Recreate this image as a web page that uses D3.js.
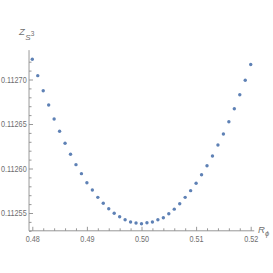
<!DOCTYPE html>
<html><head><meta charset="utf-8">
<script src="https://cdn.jsdelivr.net/npm/d3@7"></script>
<style>
html,body{margin:0;padding:0;background:#fff;}
svg text{font-family:"Liberation Sans",Arial,sans-serif;}
</style></head><body>
<svg id="c" width="273" height="273"></svg>
<script>
const xValues = [0.480,0.481,0.482,0.483,0.484,0.485,0.486,0.487,0.488,0.489,0.490,0.491,0.492,0.493,0.494,0.495,0.496,0.497,0.498,0.499,0.500,0.501,0.502,0.503,0.504,0.505,0.506,0.507,0.508,0.509,0.510,0.511,0.512,0.513,0.514,0.515,0.516,0.517,0.518,0.519,0.520];
const zValues = [0.1127227,0.1127043,0.1126874,0.1126713,0.1126556,0.1126418,0.1126283,0.1126160,0.1126043,0.1125942,0.1125840,0.1125758,0.1125676,0.1125610,0.1125548,0.1125497,0.1125458,0.1125425,0.1125399,0.1125388,0.1125380,0.1125391,0.1125399,0.1125425,0.1125447,0.1125492,0.1125543,0.1125604,0.1125676,0.1125751,0.1125834,0.1125930,0.1126031,0.1126140,0.1126264,0.1126388,0.1126526,0.1126672,0.1126829,0.1126991,0.1127169];
const xTicks = [0.48,0.49,0.50,0.51,0.52];
const xTickLabels = ["0.48","0.49","0.50","0.51","0.52"];
const yTicks = [0.11255,0.11260,0.11265,0.11270];
const yTickLabels = ["0.11255","0.11260","0.11265","0.11270"];
const xMinor = d3.range(0,21).map(i=>0.48+i*0.002).filter(v=>Math.abs(Math.round(v*100)-v*100)>1e-6);
const yMinor = d3.range(0,20).map(i=>0.11253+i*0.00001).filter(v=>v<0.112733 && Math.abs(Math.round(v*20000)-v*20000)>1e-6);

const x = d3.scaleLinear().domain([0.48,0.52]).range([32.3,250.7]);
const y = d3.scaleLinear().domain([0.11255,0.11270]).range([213,79.5]);
const xAxisMin = 0.47940, xAxisMax = 0.52065;
const yAxisMin = 0.112530, yAxisMax = 0.112733;

const svg = d3.select("#c");
const axisColor = "#8c8c8c";
const textColor = "#6e6e6e";

// x axis
const gx = svg.append("g").attr("transform",`translate(0,${y(yAxisMin)})`);
gx.call(d3.axisBottom(x).tickValues(xTicks).tickFormat((d,i)=>xTickLabels[i]).tickSizeInner(-4).tickSizeOuter(0).tickPadding(5));
gx.append("g").call(d3.axisBottom(x).tickValues(xMinor).tickFormat("").tickSizeInner(-2.5).tickSizeOuter(0)).select(".domain").remove();
gx.select(".domain").attr("d",`M${x(xAxisMin)},0H${x(xAxisMax)}`);

// y axis
const gy = svg.append("g").attr("transform",`translate(${x(xAxisMin)},0)`);
gy.call(d3.axisLeft(y).tickValues(yTicks).tickFormat((d,i)=>yTickLabels[i]).tickSizeInner(-4).tickSizeOuter(0).tickPadding(3));
gy.append("g").call(d3.axisLeft(y).tickValues(yMinor).tickFormat("").tickSizeInner(-2.5).tickSizeOuter(0)).select(".domain").remove();
gy.select(".domain").attr("d",`M0,${y(yAxisMin)}V${y(yAxisMax)}`);

svg.selectAll(".domain, .tick line").attr("stroke",axisColor).attr("stroke-width",0.9);
svg.selectAll(".tick text").attr("fill",textColor).attr("font-size",9.3).attr("font-family",null)
  .attr("transform","scale(0.78,1)");

// axis labels
const yl = svg.append("text").attr("x",19).attr("y",35).attr("fill",textColor).attr("font-size",9.5).attr("font-style","italic");
yl.append("tspan").text("Z");
yl.append("tspan").attr("font-size",8).attr("dy",5).attr("dx",0.5).text("S");
yl.append("tspan").attr("font-size",6.5).attr("dy",-4).attr("font-style","normal").text("3");

const xl = svg.append("text").attr("x",258).attr("y",233).attr("fill",textColor).attr("font-size",9.5).attr("font-style","italic");
xl.append("tspan").text("R");
xl.append("tspan").attr("font-size",7.5).attr("dy",3).text("\u03D5");

// points
svg.append("g").selectAll("circle").data(xValues).join("circle")
  .attr("cx",(d)=>x(d)).attr("cy",(d,i)=>y(zValues[i])).attr("r",1.7)
  .attr("fill","#5e81b5");
</script>
</body></html>
